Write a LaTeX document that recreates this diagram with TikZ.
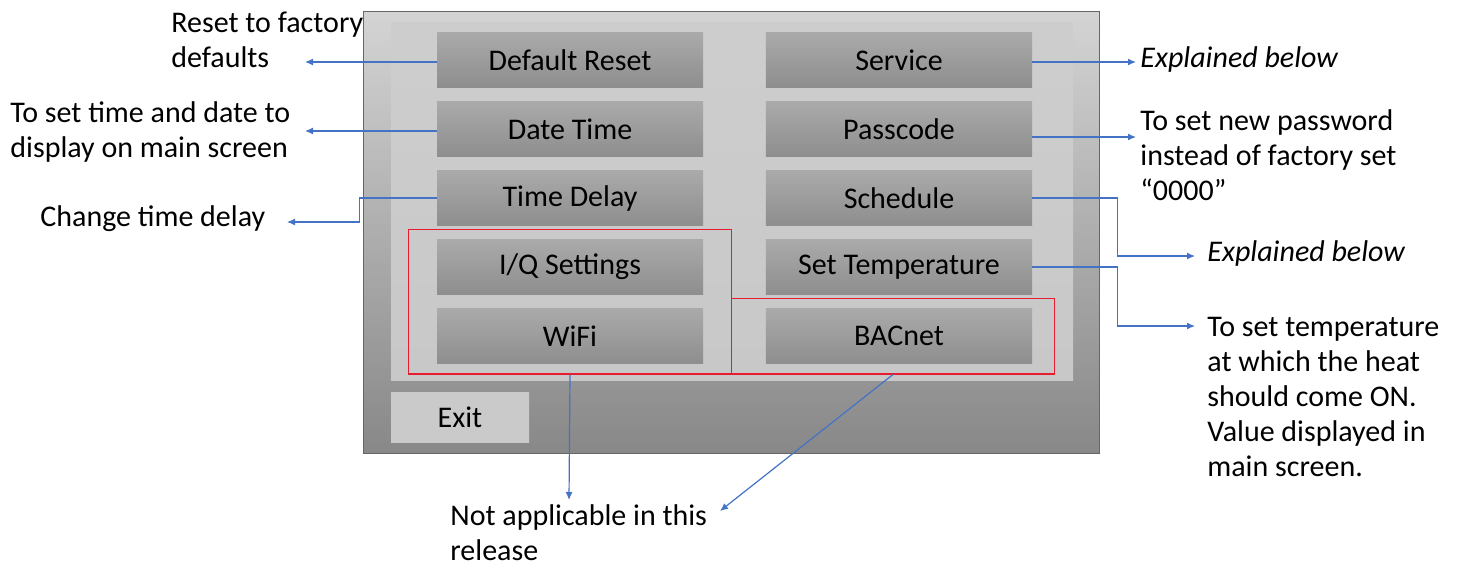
\documentclass[tikz,border=0pt]{standalone}
\usepackage{fontspec}
\setmainfont{Carlito}
\usetikzlibrary{positioning,calc,fit
  ,matrix
  ,arrows.meta}
\definecolor{paneltop}{RGB}{212,212,212}
\definecolor{panelbot}{RGB}{136,136,136}
\definecolor{panelin}{RGB}{200,200,200}
\definecolor{btntop}{RGB}{170,170,170}
\definecolor{btnbot}{RGB}{142,142,142}
\definecolor{exitgray}{RGB}{202,202,202}
\definecolor{callblue}{RGB}{68,114,196}
\definecolor{nared}{RGB}{232,28,48}
\pgfdeclarelayer{background}
\pgfsetlayers{background,main}
\newcommand\notesize{\fontsize{15}{17.5}\selectfont}
\tikzset{
  screenpic/.style={
    x=0.5pt
    ,y=-0.5pt
  }
  ,button/.style={
    minimum width=133pt,
    minimum height=27.5pt,
    inner sep=0pt,
    top color=btntop,
    bottom color=btnbot,
    font=\notesize
  }
  ,exitbutton/.style={button,minimum width=69pt,minimum height=25pt,
    top color=exitgray,bottom color=exitgray}
  ,menu/.style={ column sep=31.5pt, row sep=7pt}
  ,naframe/.style={draw=nared,line width=.6pt,inner xsep=14pt,inner ysep=5pt}
  ,note/.style={font=\notesize,align=left,inner sep=0pt,anchor=west}
  ,callout/.style={draw=callblue,line width=.6pt,
    -{Latex[length=4pt,width=3.5pt]}}
}

\begin{document}
\begin{tikzpicture}[screenpic]
    \useasboundingbox (0,0) rectangle (1458,569);

    % settings screen buttons
    \matrix[menu](menu) at (734.5,198){
      \node[button] (dflt) {Default Reset};
      & \node[button] (svc) {Service};
      \\
      \node[button] (dtime) {Date Time};
      & \node[button] (pass) {Passcode};
      \\
      \node[button] (tdelay) {Time Delay};
      & \node[button] (sched) {Schedule};
      \\
      \node[button] (iq) {I/Q Settings};
      & \node[button] (stemp) {Set Temperature};
      \\
      \node[button] (wifi) {WiFi};
      & \node[button] (bacnet) {BACnet};
      \\
    };
    \node[exitbutton] (exit) at (460,417) {Exit};

    % not applicable groups
    \node[naframe,fit=(iq)(wifi)] (naleft) {};
    \node[naframe,fit=(bacnet),xshift=-3pt] (naright) {};

    \begin{pgfonlayer}{background}
      \shade[top color=paneltop,bottom color=panelbot,draw=gray!80!black,line width=.5pt]
        (363,11) rectangle (1099,453);
      \shade[top color=panelin!90!white,bottom color=panelin] (391,22) rectangle (1073,380);
    \end{pgfonlayer}

    % notes
    \node[note] (lblrst) at (171,40) {Reset to factory\\defaults};
    \node[note] (lbldt) at (10,132) {To set time and date to\\display on main screen};
    \node[note] (lbltd) at (40,219) {Change time delay};
    \node[note] (lblsvc) at (1140,59) {\itshape Explained below};
    \node[note] (lblpass) at (1140,155) {To set new password\\instead of factory set\\“0000”};
    \node[note] (lblsch) at (1207,253) {\itshape Explained below};
    \node[note] (lbltemp) at (1207,397) {To set temperature\\at which the heat\\should come ON.\\Value displayed in\\main screen.};
    \node[note] (lblna) at (450,533) {Not applicable in this\\release};

    % arrow ends
    \coordinate (tiprst) at (305,62);
    \coordinate (tipdt) at (305,131);
    \coordinate (tiptd) at (287,222);
    \coordinate (tipsvc) at (1136,62);
    \coordinate (tippass) at (1136,137);
    \coordinate (tipsch) at (1195,256);
    \coordinate (tiptemp) at (1195,326);
    \coordinate (tipna1) at (569,500);
    \coordinate (tipna2) at (720,511);

    \draw[callout] (dflt.west |- tiprst) -- (tiprst);
    \draw[callout] (dtime.west |- tipdt) -- (tipdt);
    \draw[callout] (tdelay.west) -- ++(-77,0) |- (tiptd);
    \draw[callout] (svc.east |- tipsvc) -- (tipsvc);
    \draw[callout] (pass.east |- tippass) -- (tippass);
    \draw[callout] (sched.east) -- ++(85,0) |- (tipsch);
    \draw[callout] (stemp.east) -- ++(85,0) |- (tiptemp);
    \draw[callout] (naleft.south) -- (tipna1);
    \draw[callout] (naright.south) -- (tipna2);
  \end{tikzpicture}
\end{document}
